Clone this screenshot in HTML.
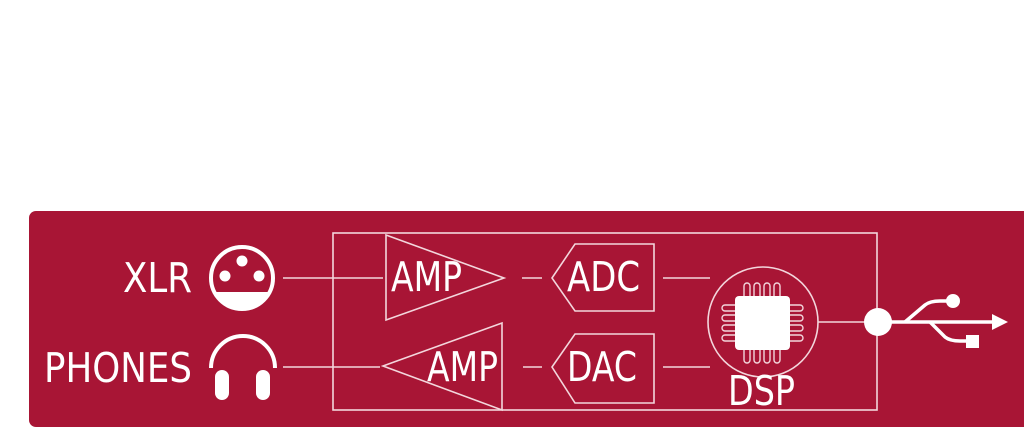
<!DOCTYPE html>
<html><head><meta charset="utf-8"><style>
html,body{margin:0;padding:0;background:#fff;width:1024px;height:429px;overflow:hidden}
svg{display:block}
text{font-family:"DejaVu Sans","Liberation Sans",sans-serif;fill:#fff}
</style></head><body>
<svg width="1024" height="429" viewBox="0 0 1024 429">
<rect x="29" y="211" width="1010" height="216" rx="7" fill="#a81535"/>
<g stroke="#f3d6dc" stroke-width="1.6" fill="none">
<rect x="333" y="233" width="544" height="177"/>
<line x1="283" y1="278" x2="383" y2="278"/>
<line x1="283" y1="367" x2="380" y2="367"/>
<polygon points="386,235 504,278 386,320"/>
<line x1="522" y1="278" x2="542" y2="278"/>
<polygon points="552,278 575,244 654,244 654,311 575,311"/>
<line x1="663" y1="278" x2="710" y2="278"/>
<polygon points="383,366 502,323 502,410"/>
<line x1="523" y1="367" x2="542" y2="367"/>
<polygon points="552,367 575,334 654,334 654,403 575,403"/>
<line x1="663" y1="367" x2="710" y2="367"/>
<circle cx="763" cy="322" r="55"/>
<line x1="818" y1="322" x2="865" y2="322"/>
</g>
<g fill="none" stroke="#fff" stroke-width="4">
<circle cx="242" cy="278" r="31"/>
<path d="M211,368 A32,32 0 0 1 275,368"/>
</g>
<path d="M214,292 A31,31 0 0 0 270,292 Z" fill="#fff"/>
<circle cx="242" cy="261" r="5.5" fill="#fff"/>
<circle cx="225" cy="276" r="5.5" fill="#fff"/>
<circle cx="259" cy="276" r="5.5" fill="#fff"/>
<rect x="215" y="370" width="14" height="30" rx="7" fill="#fff"/>
<rect x="256" y="370" width="14" height="30" rx="7" fill="#fff"/>
<g stroke="#f3d6dc" stroke-width="1.4" fill="none">
<path d="M744,296v-10a3,3 0 0 1 6,0v10 M754,296v-10a3,3 0 0 1 6,0v10 M764,296v-10a3,3 0 0 1 6,0v10 M774,296v-10a3,3 0 0 1 6,0v10"/>
<path d="M744,350v10a3,3 0 0 0 6,0v-10 M754,350v10a3,3 0 0 0 6,0v-10 M764,350v10a3,3 0 0 0 6,0v-10 M774,350v10a3,3 0 0 0 6,0v-10"/>
<path d="M735,305h-10a3,3 0 0 0 0,6h10 M735,315h-10a3,3 0 0 0 0,6h10 M735,325h-10a3,3 0 0 0 0,6h10 M735,335h-10a3,3 0 0 0 0,6h10"/>
<path d="M790,305h10a3,3 0 0 1 0,6h-10 M790,315h10a3,3 0 0 1 0,6h-10 M790,325h10a3,3 0 0 1 0,6h-10 M790,335h10a3,3 0 0 1 0,6h-10"/>
</g>
<rect x="735" y="296" width="55" height="54" rx="4" fill="#fff"/>
<circle cx="878" cy="322" r="14" fill="#fff"/>
<g stroke="#fff" stroke-width="3.5" fill="none">
<line x1="890" y1="322" x2="995" y2="322"/>
<path d="M905,322 L925,305 Q930,301 940,301 L950,301"/>
<path d="M930,322 L945,337 Q950,341 960,341 L968,341"/>
</g>
<circle cx="953" cy="301" r="7" fill="#fff"/>
<rect x="966" y="335" width="13" height="13" fill="#fff"/>
<polygon points="992,314 1008,322 992,330" fill="#fff"/>
<g font-size="41">
<text x="123" y="292" textLength="69" lengthAdjust="spacingAndGlyphs">XLR</text>
<text x="44" y="382" textLength="148" lengthAdjust="spacingAndGlyphs">PHONES</text>
<text x="391" y="291" textLength="71" lengthAdjust="spacingAndGlyphs">AMP</text>
<text x="427" y="381" textLength="71" lengthAdjust="spacingAndGlyphs">AMP</text>
<text x="567" y="291" textLength="73" lengthAdjust="spacingAndGlyphs">ADC</text>
<text x="567" y="381" textLength="70" lengthAdjust="spacingAndGlyphs">DAC</text>
<text x="728" y="405" textLength="67" lengthAdjust="spacingAndGlyphs">DSP</text>
</g>
</svg>
</body></html>
